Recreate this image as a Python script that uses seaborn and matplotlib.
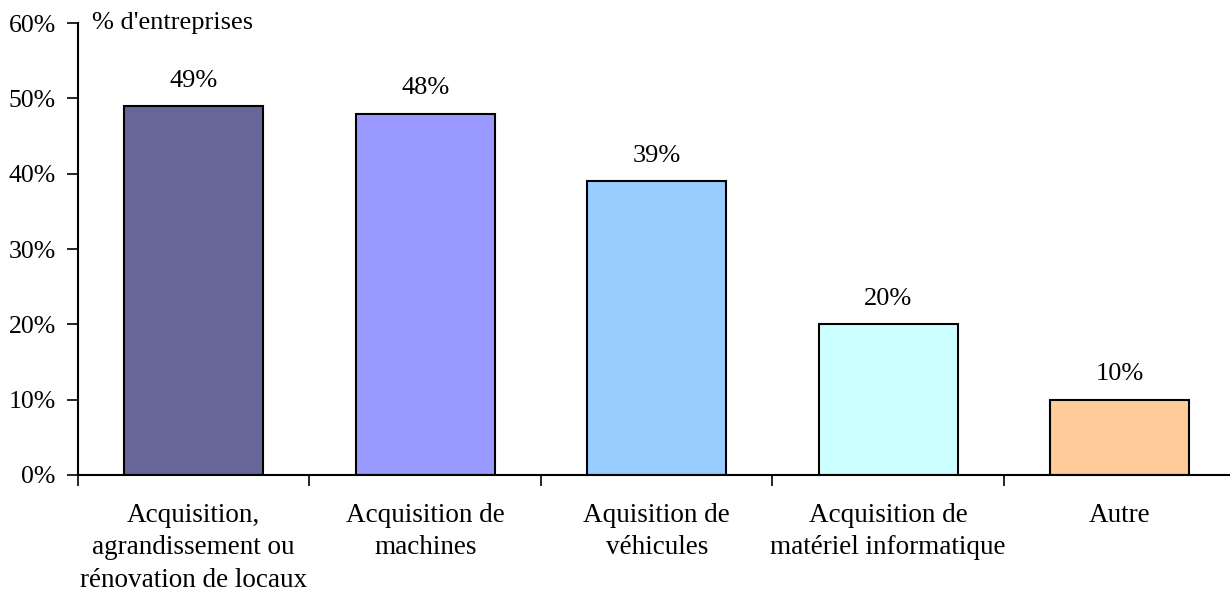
import matplotlib
matplotlib.use("Agg")
import matplotlib.pyplot as plt
import seaborn as sns
import pandas as pd
import numpy as np

categories = ["Acquisition,\nagrandissement ou\nrénovation de locaux",
              "Acquisition de\nmachines",
              "Aquisition de\nvéhicules",
              "Acquisition de\nmatériel informatique",
              "Autre"]
values = [49, 48, 39, 20, 10]
colors = ["#666699", "#9999FF", "#99CCFF", "#CCFFFF", "#FFCC99"]

sns.set_style("white")
plt.rcParams['font.family'] = ['Liberation Serif', 'DejaVu Serif']
plt.rcParams['text.color'] = 'black'
plt.rcParams['xtick.color'] = 'black'
plt.rcParams['ytick.color'] = 'black'

df = pd.DataFrame({"cat": categories, "val": values})

fig = plt.figure(figsize=(12.3, 5.93), dpi=100)
ax = fig.add_axes([0.0634, 0.199, 0.941, 0.762])

sns.barplot(data=df, x="cat", y="val", hue="cat", palette=colors, legend=False,
            width=0.6, edgecolor="black", linewidth=1.5, saturation=1, ax=ax)

for i, v in enumerate(values):
    ax.text(i, v + 1.9, f"{v}%", ha="center", va="bottom", fontsize=19)

ax.set_xlim(-0.5, 4.5)
ax.set_ylim(0, 60)
ax.set_yticks(range(0, 61, 10))
ax.set_yticklabels([f"{t}%" for t in range(0, 61, 10)], fontsize=18.5)
ax.set_xticks(range(len(categories)))
ax.set_xticklabels(categories, fontsize=19.5, linespacing=1.4)
ax.set_xticks(np.arange(-0.5, 4.6, 1), minor=True)
ax.tick_params(axis="x", which="major", bottom=True, length=0, pad=20)
ax.tick_params(axis="x", which="minor", bottom=True, length=8, width=1.2, direction="out")
ax.tick_params(axis="y", left=True, length=8, width=1.2, direction="out", pad=8)
ax.set_xlabel("")
ax.set_ylabel("")

for s in ["top", "right"]:
    ax.spines[s].set_visible(False)
for s in ["left", "bottom"]:
    ax.spines[s].set_color("black")
    ax.spines[s].set_linewidth(1.5)

ax.text(0.012, 1.0, "% d'entreprises", transform=ax.transAxes, ha="left", va="center", fontsize=19)

fig.savefig("out.png", dpi=100)
